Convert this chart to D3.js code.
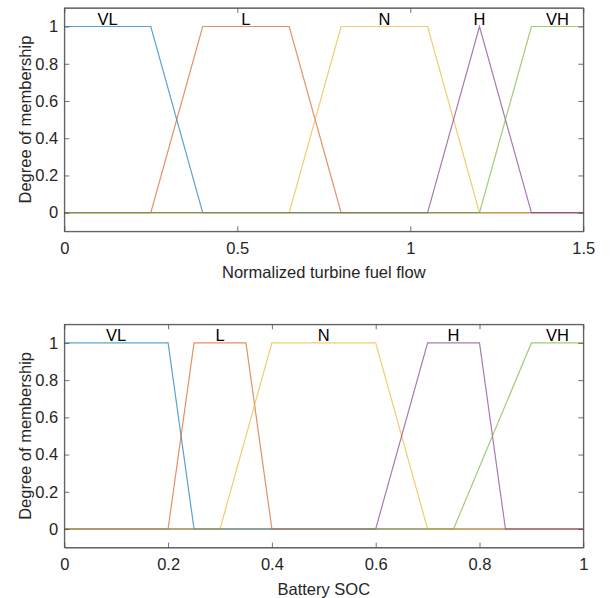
<!DOCTYPE html>
<html><head><meta charset="utf-8">
<script src="https://cdn.jsdelivr.net/npm/d3@7"></script>
<style>body{margin:0;background:#fff;}svg{display:block;}text{font-family:"Liberation Sans",Arial,sans-serif;}</style>
</head><body>
<script>
const setNames = ["VL","L","N","H","VH"];
const colors = ["#0072BD","#D95319","#EDB120","#7E2F8E","#77AC30"];
// Top plot: Normalized turbine fuel flow membership functions (x, y) breakpoints
const fuelVL = [[0,1],[0.25,1],[0.4,0],[1.5,0]];
const fuelL  = [[0,0],[0.25,0],[0.4,1],[0.65,1],[0.8,0],[1.5,0]];
const fuelN  = [[0,0],[0.65,0],[0.8,1],[1.05,1],[1.2,0],[1.5,0]];
const fuelH  = [[0,0],[1.05,0],[1.2,1],[1.35,0],[1.5,0]];
const fuelVH = [[0,0],[1.2,0],[1.35,1],[1.5,1]];
const fuelLabelX = [0.125,0.525,0.925,1.2,1.425];
const fuelXTicks = [0,0.5,1,1.5];
// Bottom plot: Battery SOC membership functions
const socVL = [[0,1],[0.2,1],[0.25,0],[1,0]];
const socL  = [[0,0],[0.2,0],[0.25,1],[0.35,1],[0.4,0],[1,0]];
const socN  = [[0,0],[0.3,0],[0.4,1],[0.6,1],[0.7,0],[1,0]];
const socH  = [[0,0],[0.6,0],[0.7,1],[0.8,1],[0.85,0],[1,0]];
const socVH = [[0,0],[0.75,0],[0.9,1],[1,1]];
const socLabelX = [0.1,0.3,0.5,0.75,0.95];
const socXTicks = [0,0.2,0.4,0.6,0.8,1];
const yTicks = [0,0.2,0.4,0.6,0.8,1];

const W=612,H=598;
const FS=16.5;
const svg=d3.select("body").append("svg").attr("width",W).attr("height",H);

function panel(top,bottom,xmax,series,labelX,xTicks,xlabel){
  const left=64.3,right=583.3;
  const x=d3.scaleLinear().domain([0,xmax]).range([left,right]);
  const y=d3.scaleLinear().domain([-0.1,1.1]).range([bottom,top]);
  const g=svg.append("g");
  const tl=5;
  const axCol="#262626";
  const boxCol="#4d4d4d";
  const line=d3.line().x(d=>x(d[0])).y(d=>y(d[1]));
  series.forEach((s,i)=>{
    g.append("path").attr("d",line(s)).attr("fill","none").attr("stroke",colors[i])
     .attr("stroke-width",1.2).attr("stroke-opacity",0.65);
  });
  series.forEach((s,i)=>{
    g.append("text").attr("x",x(labelX[i])).attr("y",y(1)-2).attr("text-anchor","middle")
     .attr("font-size",FS).attr("fill","#000").text(setNames[i]);
  });
  const fmt=d=>String(d);
  const xb=d3.axisBottom(x).tickValues(xTicks).tickFormat(fmt).tickSizeInner(-tl).tickSizeOuter(0).tickPadding(11);
  const xt=d3.axisTop(x).tickValues(xTicks).tickFormat("").tickSizeInner(-tl).tickSizeOuter(0);
  const yl=d3.axisLeft(y).tickValues(yTicks).tickFormat(fmt).tickSizeInner(-tl).tickSizeOuter(0).tickPadding(6);
  const yr=d3.axisRight(y).tickValues(yTicks).tickFormat("").tickSizeInner(-tl).tickSizeOuter(0);
  const axes=[
    g.append("g").attr("transform",`translate(0,${bottom})`).call(xb),
    g.append("g").attr("transform",`translate(0,${top})`).call(xt),
    g.append("g").attr("transform",`translate(${left},0)`).call(yl),
    g.append("g").attr("transform",`translate(${right},0)`).call(yr)
  ];
  axes.forEach(a=>{
    a.selectAll("path").attr("stroke",boxCol).attr("stroke-width",0.8);
    a.selectAll("line").attr("stroke",boxCol).attr("stroke-width",0.8);
    a.selectAll("text").attr("font-size",FS).attr("fill",axCol).attr("font-family",'"Liberation Sans",Arial,sans-serif');
  });
  g.append("rect").attr("x",left).attr("y",top).attr("width",right-left).attr("height",bottom-top)
   .attr("fill","none").attr("stroke",boxCol).attr("stroke-width",0.8);
  g.append("text").attr("x",(left+right)/2).attr("y",bottom+47).attr("text-anchor","middle")
   .attr("font-size",FS).attr("fill",axCol).text(xlabel);
  g.append("text").attr("transform",`translate(25,${(top+bottom)/2}) rotate(-90)`).attr("dy","0.35em")
   .attr("text-anchor","middle").attr("font-size",FS).attr("fill",axCol).text("Degree of membership");
}
panel(7.9,231.3,1.5,[fuelVL,fuelL,fuelN,fuelH,fuelVH],fuelLabelX,fuelXTicks,"Normalized turbine fuel flow");
panel(324.3,547.6,1,[socVL,socL,socN,socH,socVH],socLabelX,socXTicks,"Battery SOC");
</script>
</body></html>
